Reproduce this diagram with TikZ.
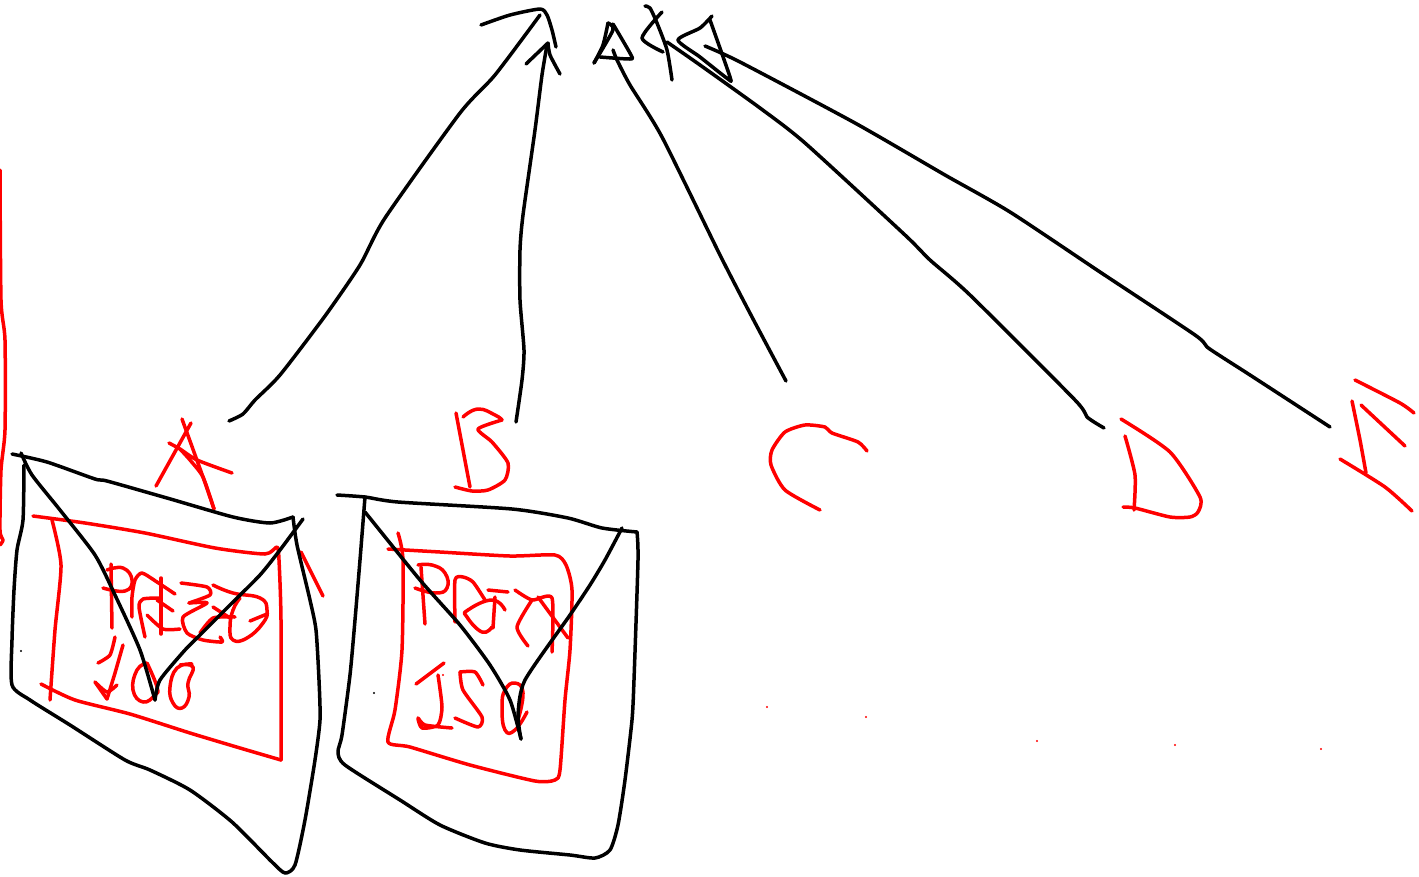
\documentclass[tikz,border=0pt]{standalone}
\tikzset{
  inkk/.style={draw=black,line width=3.5pt,line cap=round,line join=round},
  inkr/.style={draw=red,line width=3.5pt,line cap=round,line join=round},
}
\newcommand\strokeK[1]{\draw[inkk] plot[smooth,tension=0.4] coordinates {#1};}
\newcommand\strokeR[1]{\draw[inkr] plot[smooth,tension=0.4] coordinates {#1};}
\newcommand\loopR[1]{\draw[inkr] plot[smooth,tension=0.8] coordinates {#1};}
\begin{document}
\begin{tikzpicture}[x=1pt,y=-1pt]
\useasboundingbox (0,0) rectangle (1419,876);
\fill[white] (0,0) rectangle (1419,876);
% far-left red stroke
\strokeR{(0,170)(1,300)(5,340)(5,430)(1,470)(0,530)(3,540)(0,545)}
% red letters
\strokeR{(156,486)(191,423)}
\strokeR{(182,419)(203,477)(214,509)}
\strokeR{(169,443)(180,449)(197,460)(232,473)}
\strokeR{(180,449)(190,460)(203,477)(214,509)}
\strokeR{(456,413)(463,450)(470,487)}
\loopR{(463,417)(478,409)(495,415)(502,420)}
\strokeR{(502,420)(478,429)(492,442)(508,463)(505,480)(488,490)(472,491)(455,487)}
\strokeR{(867,451)(858,442)(832,433)(825,427)(805,425)(785,432)(772,450)(771,465)(785,490)(820,510)}
\strokeR{(1121,419)(1170,452)(1200,497)(1198,512)(1190,517)(1170,517)(1135,508)(1123,507)}
\strokeR{(1125,436)(1135,475)(1134,510)}
\strokeR{(1352,401)(1360,440)(1366,473)}
\strokeR{(1355,380)(1400,403)(1414,413)}
\strokeR{(1361,405)(1405,446)}
\strokeR{(1340,459)(1385,487)(1412,511)}
% red panel A
\strokeR{(33,516)(85,523)(145,533)(215,548)(265,554)(277,547)(279,560)(281,620)(281,760)}
\strokeR{(281,760)(240,748)(190,733)(130,714)(75,700)(41,684)}
\strokeR{(52,520)(61,565)(55,630)(50,700)}
\strokeR{(301,552)(323,596)}
% PREZZO 100
\strokeR{(111,564)(112,628)}
\loopR{(103,588)(125,591)(132,580)(123,568)(107,570)}
\strokeR{(132,617)(132,597)(135,580)(142,573)(157,582)(175,594)}
\strokeR{(160,598)(143,599)(139,607)(145,637)}
\strokeR{(161,578)(161,634)}
\strokeR{(147,615)(163,629)(180,629)}
\strokeR{(157,600)(173,611)}
\strokeR{(181,583)(207,587)(210,595)(189,603)}
\strokeR{(189,603)(207,603)(183,617)(187,633)(203,640)(222,642)(220,637)}
\loopR{(213,585)(233,593)(260,598)(267,610)(263,623)(247,638)(233,640)(230,627)(233,610)(240,598)}
\strokeR{(200,633)(213,618)(235,617)}
\strokeR{(213,607)(230,618)}
\strokeR{(250,621)(267,614)}
\strokeR{(115,637)(110,655)(98,663)}
\strokeR{(123,645)(115,673)(107,699)}
\strokeR{(107,699)(95,682)}
\strokeR{(95,682)(107,692)(117,685)}
\loopR{(147,663)(137,670)(133,690)(143,702)(155,695)(157,687)(147,663)}
\loopR{(192,664)(177,668)(170,687)(173,703)(182,708)(189,697)(188,683)(193,667)(180,665)}
% red panel B
\strokeR{(388,549)(440,552)(510,556)(555,555)(566,565)(572,590)(570,650)(565,700)(560,770)(555,780)(535,781)(470,765)(410,747)(388,742)(395,710)(402,650)(403,560)(398,533)}
% PREZ 150
\strokeR{(421,567)(425,624)}
\loopR{(415,588)(435,593)(447,588)(445,573)(432,565)(418,565)}
\strokeR{(455,622)(455,580)(463,577)(473,582)(485,600)}
\loopR{(505,610)(492,600)(468,610)(467,617)(482,632)(492,627)}
\strokeR{(495,597)(493,628)}
\strokeR{(488,590)(508,592)}
\strokeR{(515,590)(532,600)(552,598)(552,652)}
\strokeR{(538,597)(568,638)}
\strokeR{(532,600)(517,627)(528,646)}
\strokeR{(416,684)(444,663)}
\strokeR{(438,675)(442,707)(438,725)(422,728)(418,718)(425,725)(452,728)}
\strokeR{(483,685)(475,672)(460,672)}
\strokeR{(460,672)(463,690)(482,717)(478,727)(455,718)}
\loopR{(527,712)(515,730)(505,730)(502,707)(505,690)(515,683)(523,693)(518,720)}
% dots
\foreach \p in {(767,707),(866,717),(1037,741),(1175,745),(1321,749),(443,675)} \fill[red] \p circle (1.2pt);
\foreach \p in {(21,651),(374,693)} \fill[black] \p circle (1.2pt);
% black panel A
\strokeK{(12,454)(47,462)(95,479)(107,481)(167,498)(233,517)(270,523)(293,517)}
\strokeK{(293,517)(297,545)(310,600)(316,630)(319,680)(320,720)(315,760)(305,820)(295,865)(285,873)(272,862)(232,822)(190,790)(150,770)(125,760)(70,725)(30,700)(12,685)(12,640)(14,590)(17,550)(23,520)(24,465)}
\strokeK{(21,453)(32,475)(60,510)(95,555)(115,595)(140,650)(155,700)}
\strokeK{(155,700)(160,680)(185,650)(200,635)(230,605)(260,575)(280,550)(303,519)}
% black panel B
\strokeK{(337,495)(365,497)(398,502)(512,509)(568,518)(602,528)(637,532)}
\strokeK{(637,532)(638,560)(634,680)(632,720)(625,780)(618,825)(610,850)(595,858)(570,855)(520,850)(485,843)(440,825)(400,800)(345,765)(338,752)(342,735)(350,675)(355,620)(360,560)(365,497)}
\strokeK{(365,512)(420,580)(460,625)(490,665)(510,700)(521,739)}
\strokeK{(521,739)(518,715)(525,680)(570,615)(590,585)(605,560)(622,528)}
% long connectors
\strokeK{(229,421)(243,414)(255,400)(280,375)(325,316)(360,265)(385,218)(460,113)(495,75)(540,15)}
\strokeK{(481,25)(510,15)(540,9)(547,15)(552,30)(556,47)}
\strokeK{(516,422)(522,380)(524,350)(520,300)(520,250)(523,215)(535,130)(542,75)(547,45)}
\strokeK{(526,64)(548,43)}
\strokeK{(548,43)(550,55)(560,74)}
\strokeK{(594,63)(603,45)(608,23)}
\strokeK{(608,23)(613,30)(594,63)}
\strokeK{(600,57)(630,59)(631,55)(613,24)}
\strokeK{(613,50)(617,60)(630,85)(662,137)(720,255)(752,317)(786,381)}
\strokeK{(645,6)(650,8)(657,23)(667,50)(672,80)}
\strokeK{(662,12)(642,38)(663,52)}
\strokeK{(667,42)(700,65)(760,108)(805,143)(905,235)(930,260)(970,295)(1075,400)(1087,417)(1104,428)}
\strokeK{(712,16)(700,28)(678,40)(700,57)(728,79)(730,77)(710,20)}
\strokeK{(705,46)(740,62)(855,123)(945,175)(1010,212)(1100,272)(1195,335)(1207,347)(1225,359)(1250,375)(1330,427)}
\end{tikzpicture}
\end{document}
